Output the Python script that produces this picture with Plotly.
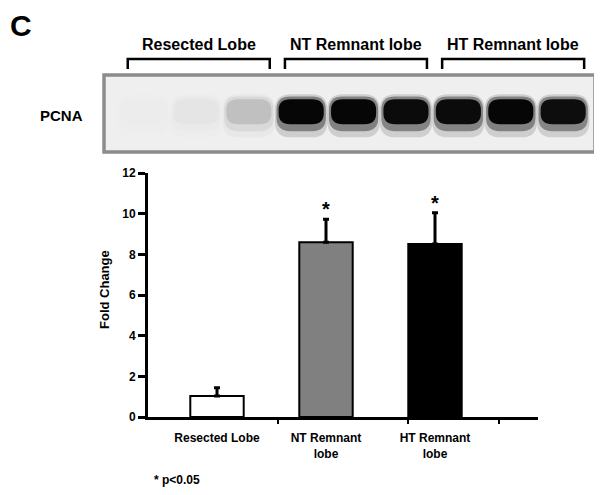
import plotly.graph_objects as go

# the page body keeps its 8px margin, so the figure is laid out 8px in
OFF = 8
W, H = 602 - OFF, 495 - OFF

# bar chart data
groups = ["Resected Lobe", "NT Remnant<br>lobe", "HT Remnant<br>lobe"]
fold_change = [1.03, 8.59, 8.51]
fold_error = [0.41, 1.13, 1.54]
bar_colors = ["#ffffff", "#808080", "#000000"]
significant = [False, True, True]
y_ticks = [0, 2, 4, 6, 8, 10, 12]

# western blot data
blot_groups = ["Resected Lobe", "NT Remnant lobe", "HT Remnant lobe"]
lanes_per_group = 3
band_intensity = [0.01, 0.04, 0.2, 1.0, 1.0, 0.98, 0.98, 1.0, 0.97]

FONT = "Liberation Sans, Arial, sans-serif"


def px(x):
    return (x - OFF) / W


def py(y):
    return 1 - (y - OFF) / H


def gray(v, alpha=1.0):
    g = round(238 - 232 * v)
    return f"rgba({g},{g},{g},{alpha})"


def rounded_rect(x0, x1, y0, y1, rx, ry):
    return (f"M {x0 + rx},{y0} L {x1 - rx},{y0} Q {x1},{y0} {x1},{y0 + ry} "
            f"L {x1},{y1 - ry} Q {x1},{y1} {x1 - rx},{y1} L {x0 + rx},{y1} "
            f"Q {x0},{y1} {x0},{y1 - ry} L {x0},{y0 + ry} Q {x0},{y0} {x0 + rx},{y0} Z")


fig = go.Figure()

# ---- blot ----
shapes = [
    dict(type="rect", xref="x2 domain", yref="y2 domain", x0=0, x1=1, y0=0, y1=1,
         fillcolor="#efefef", line=dict(color="#8c8c8c", width=3.5), layer="below"),
]
# (half width, bottom, top, rx, ry, alpha) from soft blur to dark core
band_layers = [
    (0.50, -0.62, 0.50, 0.30, 0.40, 0.14),
    (0.47, -0.46, 0.44, 0.26, 0.34, 0.38),
    (0.43, -0.28, 0.37, 0.22, 0.28, 1.00),
]
for lane, v in enumerate(band_intensity):
    for hw, b, t, rx, ry, alpha in band_layers:
        shapes.append(dict(
            type="path", xref="x2", yref="y2", layer="below",
            path=rounded_rect(lane - hw, lane + hw, b, t, rx, ry),
            fillcolor=gray(v, alpha), line=dict(width=0),
        ))

annotations = []
for i, name in enumerate(blot_groups):
    a = i * lanes_per_group - 0.31
    b = (i + 1) * lanes_per_group - 1 + 0.40
    shapes.append(dict(
        type="path", xref="x2", yref="paper",
        path=f"M {a},{py(69)} L {a},{py(59)} L {b},{py(59)} L {b},{py(69)}",
        line=dict(color="black", width=2.5),
    ))
    annotations.append(dict(x=(a + b) / 2, y=py(45), xref="x2", yref="paper",
                            text=f"<b>{name}</b>", showarrow=False,
                            font=dict(size=16, family=FONT, color="black"),
                            xanchor="center", yanchor="middle"))

annotations.append(dict(x=px(61.5), y=py(116), xref="paper", yref="paper",
                        text="<b>PCNA</b>", showarrow=False,
                        font=dict(size=15, family=FONT, color="black"),
                        xanchor="center", yanchor="middle"))
annotations.append(dict(x=px(8), y=py(26), xref="paper", yref="paper",
                        text="<b>C</b>", showarrow=False,
                        font=dict(size=30, family=FONT, color="black"),
                        xanchor="left", yanchor="middle"))

# invisible trace so the blot axes exist
fig.add_trace(go.Scatter(x=[0], y=[0], mode="markers", marker=dict(opacity=0),
                         xaxis="x2", yaxis="y2", showlegend=False, hoverinfo="skip"))

# ---- bar chart ----
xpos = [1, 2, 3]
fig.add_trace(go.Bar(
    x=xpos, y=fold_change, width=0.49,
    marker=dict(color=bar_colors, line=dict(color="black", width=2)),
    error_y=dict(type="data", array=fold_error, arrayminus=[0] * 3, symmetric=False,
                 color="black", thickness=3, width=3),
    showlegend=False,
))

for x, m, e, s in zip(xpos, fold_change, fold_error, significant):
    if s:
        annotations.append(dict(x=x, y=m + e, xref="x", yref="y", text="<b>*</b>",
                                showarrow=False, yanchor="bottom", yshift=-3,
                                font=dict(size=20, family=FONT, color="black")))

annotations.append(dict(x=px(104), y=py(290), xref="paper", yref="paper",
                        text="<b>Fold Change</b>", textangle=-90, showarrow=False,
                        font=dict(size=13, family=FONT, color="black"),
                        xanchor="center", yanchor="middle"))
annotations.append(dict(x=px(152), y=py(480), xref="paper", yref="paper",
                        text="<b>* p<0.05</b>", showarrow=False,
                        font=dict(size=12, family=FONT, color="black"),
                        xanchor="left", yanchor="middle"))

fig.update_layout(
    width=W, height=H,
    margin=dict(l=0, r=0, t=0, b=0),
    paper_bgcolor="white", plot_bgcolor="white",
    shapes=shapes, annotations=annotations,
    xaxis=dict(domain=[px(148), px(538)], range=[0.367, 3.945], anchor="y",
               tickvals=xpos, ticktext=[f"<b>{g}</b>" for g in groups],
               tickfont=dict(size=12, family=FONT, color="black"),
               ticks="", showline=True, linecolor="black", linewidth=3,
               showgrid=False, zeroline=False, automargin=False, ticklabelstandoff=8,
               minor=dict(tickvals=[1.56, 2.75, 3.59], ticks="outside", ticklen=4,
                          tickwidth=2, tickcolor="black", showgrid=False)),
    yaxis=dict(domain=[py(417), py(173)], range=[0, 12], anchor="x",
               tickvals=y_ticks, ticktext=[f"<b>{t}</b>" for t in y_ticks],
               tickfont=dict(size=12, family=FONT, color="black"),
               ticks="outside", ticklen=7, tickwidth=2.5, tickcolor="black",
               showline=True, linecolor="black", linewidth=3,
               showgrid=False, zeroline=False, automargin=False, ticklabelstandoff=0),
    xaxis2=dict(domain=[px(104), px(595)], range=[-0.763, 8.607], anchor="y2",
                visible=False, fixedrange=True),
    yaxis2=dict(domain=[py(152), py(75)], range=[-1, 1], anchor="x2",
                visible=False, fixedrange=True),
)

fig.write_html("out.html")
